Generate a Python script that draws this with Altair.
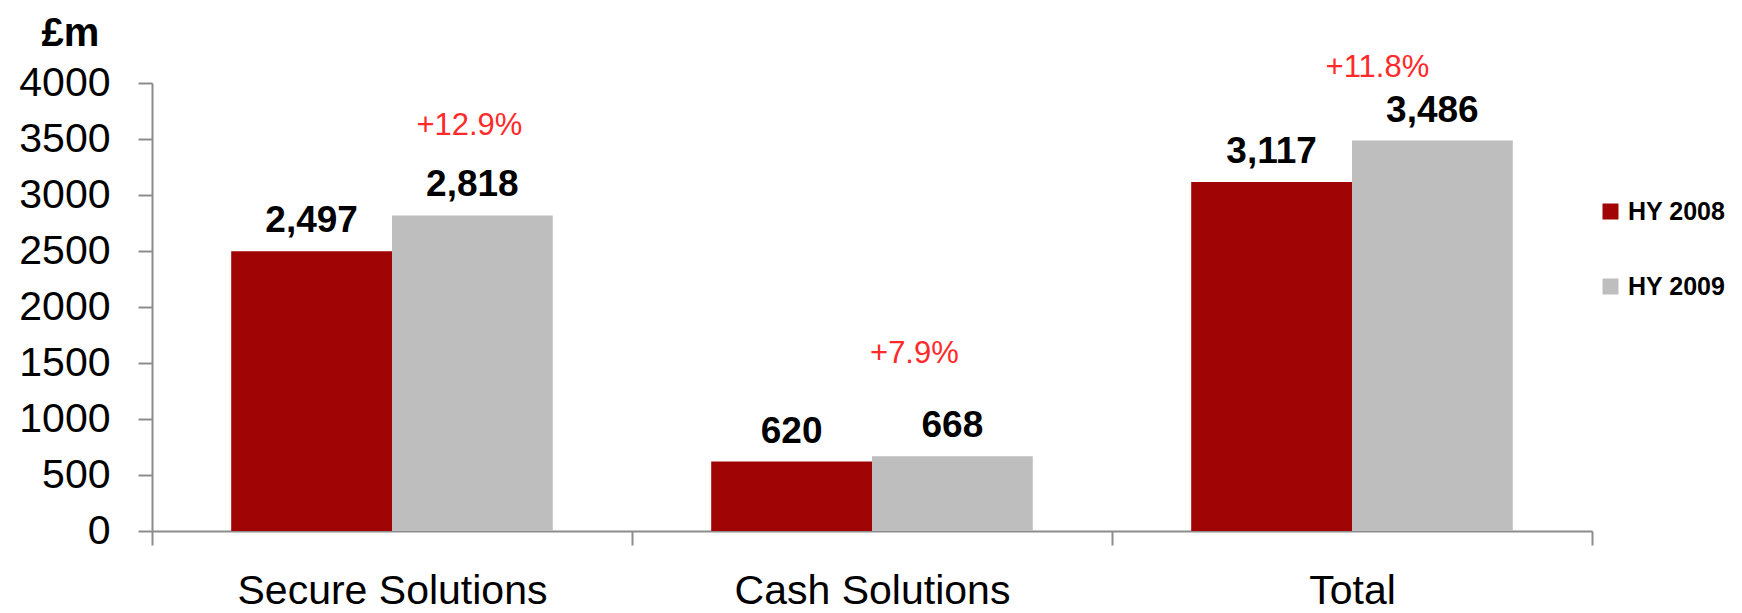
import altair as alt
import pandas as pd

categories = ["Secure Solutions", "Cash Solutions", "Total"]
series = ["HY 2008", "HY 2009"]
hy2008 = [2497, 620, 3117]
hy2009 = [2818, 668, 3486]
growth_labels = ["+12.9%", "+7.9%", "+11.8%"]
y_ticks = [0, 500, 1000, 1500, 2000, 2500, 3000, 3500, 4000]

rows = []
for c, a, b in zip(categories, hy2008, hy2009):
    rows.append({"category": c, "series": series[0], "value": a})
    rows.append({"category": c, "series": series[1], "value": b})
df = pd.DataFrame(rows)

pct = pd.DataFrame({
    "category": categories,
    "series": [series[1]] * 3,
    "anchor": hy2009,
    "label": growth_labels,
})

FONT = "Liberation Sans"
AXIS_GREY = "#8C8C8C"

x_enc = alt.X(
    "category:N",
    sort=categories,
    scale=alt.Scale(paddingInner=0, paddingOuter=0),
    axis=alt.Axis(
        title=None, labelAngle=0, labelFontSize=41, labelFont=FONT,
        labelColor="black", labelPadding=26, labelLimit=600,
        tickBand="extent", tickSize=14, tickWidth=2, tickColor=AXIS_GREY,
        domainColor=AXIS_GREY, domainWidth=2, grid=False,
    ),
)
xoff = alt.XOffset(
    "series:N", sort=series,
    scale=alt.Scale(paddingInner=0, paddingOuter=0.4925),
)
y_scale = alt.Scale(domain=[0, 4000], nice=False)

bars = alt.Chart(df).mark_bar().encode(
    x=x_enc,
    xOffset=xoff,
    y=alt.Y(
        "value:Q", scale=y_scale,
        axis=alt.Axis(
            values=y_ticks, format="d", title="£m", titleAngle=0, titleFontSize=40,
            titleFont=FONT, titleFontWeight="bold", titleColor="black",
            titleX=-82, titleY=-38, titleAlign="center", titleBaseline="alphabetic",
            labelFontSize=41, labelFont=FONT, labelColor="black", labelPadding=28,
            tickSize=14, tickWidth=2, tickColor=AXIS_GREY,
            domainColor=AXIS_GREY, domainWidth=2, grid=False,
        ),
    ),
    color=alt.Color(
        "series:N", sort=series,
        scale=alt.Scale(domain=series, range=["#A10404", "#BEBEBE"]),
        legend=alt.Legend(
            title=None, orient="none", legendX=1446, legendY=116,
            symbolType="square", symbolSize=256, symbolStrokeWidth=0,
            labelFontSize=25, labelFont=FONT, labelFontWeight="bold",
            labelColor="black", labelOffset=5, rowPadding=49,
        ),
    ),
)

values = alt.Chart(df).mark_text(
    font=FONT, fontSize=37, fontWeight="bold", color="black",
    baseline="alphabetic", dy=-19,
).encode(
    x=alt.X("category:N", sort=categories),
    xOffset=xoff,
    y=alt.Y("value:Q", scale=y_scale),
    text=alt.Text("value:Q", format=","),
)

offsets = {"Secure Solutions": (-3, -80), "Cash Solutions": (-38, -93), "Total": (-55, -64)}
pct_layers = []
for c in categories:
    dx, dy = offsets[c]
    pct_layers.append(
        alt.Chart(pct).transform_filter(alt.datum.category == c).mark_text(
            font=FONT, fontSize=31, color="#FF2A2A", baseline="alphabetic",
            dx=dx, dy=dy,
        ).encode(
            x=alt.X("category:N", sort=categories),
            xOffset=xoff,
            y=alt.Y("anchor:Q", scale=y_scale),
            text="label:N",
        )
    )

chart = alt.layer(bars, values, *pct_layers).properties(
    width=1440, height=448,
    padding={"left": 152, "top": 83, "right": 150, "bottom": 82},
    autosize="none",
).configure_view(stroke=None)

chart.save("out.html", embed_options={"renderer": "svg", "actions": False})
